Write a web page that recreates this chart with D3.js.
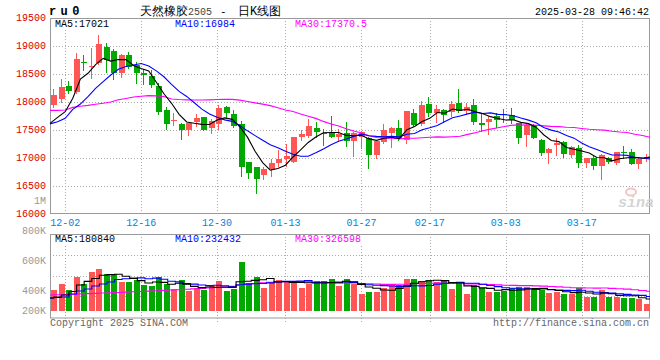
<!DOCTYPE html>
<html><head><meta charset="utf-8">
<script src="https://cdn.jsdelivr.net/npm/d3@7"></script>
<style>
html,body{margin:0;padding:0;background:#fff;}
svg{display:block;}
text{font-family:"Liberation Mono","DejaVu Sans Mono",monospace;}
</style></head><body>
<svg id="c" width="660" height="360"></svg>
<script>
const dates = ["2024-11-28","2024-11-29","2024-12-02","2024-12-03","2024-12-04","2024-12-05","2024-12-06","2024-12-09","2024-12-10","2024-12-11","2024-12-12","2024-12-13","2024-12-16","2024-12-17","2024-12-18","2024-12-19","2024-12-20","2024-12-23","2024-12-24","2024-12-25","2024-12-26","2024-12-27","2024-12-30","2024-12-31","2025-01-02","2025-01-03","2025-01-06","2025-01-07","2025-01-08","2025-01-09","2025-01-10","2025-01-13","2025-01-14","2025-01-15","2025-01-16","2025-01-17","2025-01-20","2025-01-21","2025-01-22","2025-01-23","2025-01-24","2025-01-27","2025-02-05","2025-02-06","2025-02-07","2025-02-10","2025-02-11","2025-02-12","2025-02-13","2025-02-14","2025-02-17","2025-02-18","2025-02-19","2025-02-20","2025-02-21","2025-02-24","2025-02-25","2025-02-26","2025-02-27","2025-02-28","2025-03-03","2025-03-04","2025-03-05","2025-03-06","2025-03-07","2025-03-10","2025-03-11","2025-03-12","2025-03-13","2025-03-14","2025-03-17","2025-03-18","2025-03-19","2025-03-20","2025-03-21","2025-03-24","2025-03-25","2025-03-26","2025-03-27","2025-03-28"];

const openP = [17943,18050,18283,18181,18712,18635,18688,18987,18915,18521,
 18837,18659,18521,18468,18283,17853,17662,17596,17489,17644,
 17722,17525,17596,17913,17781,17602,16916,16833,16689,16797,
 16910,16976,16922,17376,17388,17531,17441,17441,17364,17441,
 17304,17376,17358,17047,17280,17447,17531,17316,17793,17596,
 17960,17793,17853,17823,17984,17835,17943,17614,17644,17746,
 17781,17763,17614,17405,17584,17316,17077,17220,17286,17047,
 17179,16898,16999,16850,16988,16910,17095,17095,16886,16976];
const highP = [18229,18402,18372,18867,18837,18957,19196,19058,18945,18849,
 18885,18706,18587,18569,18330,17913,17793,17614,17626,17781,
 17734,17686,17936,17925,17853,17662,16922,16840,16833,16982,
 17137,17238,17376,17495,17686,17644,17507,17746,17507,17638,
 17459,17477,17376,17316,17602,17543,17674,17841,17865,18010,
 18092,17943,17871,18014,18229,17972,18050,17793,17746,17793,
 17871,17895,17626,17602,17602,17328,17178,17346,17290,17208,
 17226,16999,17035,17059,17006,17107,17208,17155,17017,17065];
const lowP = [17901,17990,18151,18163,18569,18420,18670,18539,18402,18450,
 18611,18342,18318,18271,17775,17507,17584,17328,17411,17572,
 17495,17447,17507,17734,17543,16677,16630,16361,16618,16677,
 16850,16850,16916,17316,17364,17376,17226,17364,17304,17208,
 17029,17178,16821,16999,17268,17196,17316,17268,17566,17584,
 17746,17644,17644,17746,17823,17781,17602,17483,17429,17555,
 17644,17626,17268,17208,17346,17047,16910,17047,17006,17006,
 16839,16839,16797,16618,16910,16880,16988,16886,16821,16940];
const closeP = [18121,18259,18193,18766,18688,18647,19034,18748,18521,18837,
 18629,18521,18473,18300,17823,17596,17674,17489,17614,17704,
 17495,17662,17895,17805,17566,16839,16731,16624,16791,16898,
 16976,17029,17364,17423,17566,17465,17417,17376,17429,17304,
 17441,17459,17047,17298,17495,17531,17340,17835,17584,17950,
 17805,17871,17763,17960,17835,17901,17644,17590,17698,17674,
 17757,17674,17358,17584,17358,17077,17161,17256,17065,17196,
 16910,16988,16850,17047,16916,17095,17077,16886,16976,17017];

const ma5 = [17614,17722,17823,18062,18405,18511,18666,18777,18728,18757,
 18754,18651,18596,18552,18349,18143,17973,17776,17639,17615,
 17595,17593,17674,17712,17685,17553,17367,17113,16910,16777,
 16804,16864,17012,17138,17272,17369,17447,17449,17451,17398,
 17393,17402,17336,17310,17348,17366,17342,17500,17557,17648,
 17703,17809,17795,17870,17847,17866,17821,17786,17734,17701,
 17673,17679,17632,17609,17546,17410,17308,17287,17183,17151,
 17118,17083,17002,16998,16942,16979,16997,17004,16990,17010];
const ma10 = [17605,17644,17704,17865,17960,18092,18241,18360,18479,18581,
 18632,18658,18686,18640,18553,18448,18312,18186,18096,17982,
 17869,17783,17725,17676,17650,17574,17480,17394,17311,17231,
 17179,17115,17062,17024,17024,17087,17155,17231,17294,17335,
 17381,17424,17393,17380,17373,17380,17372,17418,17433,17498,
 17534,17576,17647,17713,17747,17784,17815,17790,17802,17774,
 17769,17750,17709,17672,17624,17541,17493,17460,17396,17349,
 17264,17195,17145,17091,17047,17048,17040,17003,16994,16976];
const ma30 = [17847,17847,17853,17900,17920,17935,17955,17975,17995,18035,
 18060,18085,18100,18110,18106,18095,18050,18040,18035,18032,
 18032,18035,18040,18044,18044,18030,18005,17980,17958,17931,
 17893,17852,17825,17780,17742,17703,17649,17603,17567,17516,
 17476,17441,17393,17360,17349,17347,17336,17347,17346,17355,
 17365,17372,17367,17373,17382,17417,17447,17480,17510,17536,
 17562,17583,17583,17588,17581,17569,17560,17556,17544,17540,
 17523,17507,17500,17492,17473,17458,17449,17418,17397,17366];

// volume in thousands of lots
const volume = [366,471,366,593,471,680,732,645,645,506,
 506,541,453,436,593,471,384,541,349,401,
 366,436,523,349,384,854,488,593,401,506,
 541,523,523,401,471,523,523,558,436,558,
 471,296,331,331,401,453,453,558,558,523,
 541,506,523,384,488,296,453,401,331,331,
 349,401,418,418,366,366,314,331,296,296,
 401,244,244,371,244,244,232,232,209,122];
const vma5 = [227,244,279,340,453,516,568,624,635,642,
 607,569,530,488,506,499,467,485,468,429,
 408,419,415,415,412,509,520,534,544,568,
 506,513,499,499,492,488,488,495,502,520,
 509,464,418,397,366,362,394,439,485,509,
 527,537,530,495,488,439,429,404,394,362,
 373,363,366,383,390,394,376,359,335,321,
 328,314,296,311,301,269,267,265,232,208];
const vma10 = [227,235,244,296,349,384,436,471,506,548,
 562,569,577,562,574,553,518,508,478,468,
 454,443,450,441,420,459,469,474,480,490,
 508,516,516,521,530,497,501,497,501,506,
 499,476,457,450,443,436,429,429,441,438,
 445,466,485,490,499,483,483,467,445,425,
 406,396,385,389,376,383,370,363,359,356,
 361,345,328,323,311,299,290,280,272,254];
const vma30 = [279,283,288,293,298,303,308,313,318,323,
 329,335,341,347,353,359,365,371,378,385,
 393,401,410,420,430,445,460,475,490,502,
 508,509,514,508,508,503,496,493,486,488,
 487,478,474,471,464,464,466,467,474,478,
 484,486,486,487,491,472,471,464,462,456,
 450,446,442,443,439,434,427,420,415,406,
 404,402,399,401,395,388,381,370,358,345];

const priceTicks = [16000,16500,17000,17500,18000,18500,19000,19500];
const volTickValues = [200,400,600,800,1000];
const volTickLabels = ["200K","400K","600K","800K","1M"];
const xTickDates = ["2024-12-02","2024-12-16","2024-12-30","2025-01-13","2025-01-27","2025-02-17","2025-03-03","2025-03-17"];

const priceLegend = [{t:"MA5:17021",c:"#000"},{t:"MA10:16984",c:"#0000ff"},{t:"MA30:17370.5",c:"#ff00ff"}];
const volLegend = [{t:"MA5:180840",c:"#000"},{t:"MA10:232432",c:"#0000ff"},{t:"MA30:326598",c:"#ff00ff"}];

const RED = "#ff5555", GREEN = "#00a800", GRID = "#aaaaaa", BORDER = "#999999";

const svg = d3.select("#c");
svg.append("rect").attr("width",660).attr("height",360).attr("fill","#fff");

const x = d3.scaleBand().domain(dates).range([50,650]).paddingInner(0).paddingOuter(0);
const xp = d3.scalePoint().domain(dates).range([50,650]);
const yP = d3.scaleLinear().domain([16000,19500]).range([213.5,18]);
const yV = d3.scaleLinear().domain([0,1000]).range([311, 311 - 1000/17.438]);
const yVLabel = d3.scaleLinear().domain([200,400,1000]).range([310.3,290.3,200.3]);
const yVGrid = d3.scaleLinear().domain([0,4]).range([316,235]);

const crisp = v => Math.round(v) + 0.5;

// grid
const g = svg.append("g").attr("stroke",GRID).attr("stroke-dasharray","1,2").attr("stroke-width",1);
priceTicks.filter(t => t>16000 && t<19500).forEach(t => {
  g.append("line").attr("x1",50).attr("x2",650).attr("y1",crisp(yP(t))).attr("y2",crisp(yP(t)));
});
[1,2,3].forEach(k => {
  g.append("line").attr("x1",50).attr("x2",650).attr("y1",crisp(yVGrid(k))).attr("y2",crisp(yVGrid(k)));
});
xTickDates.forEach(d => {
  const xx = crisp(xp(d));
  g.append("line").attr("x1",xx).attr("x2",xx).attr("y1",18).attr("y2",214);
  g.append("line").attr("x1",xx).attr("x2",xx).attr("y1",234).attr("y2",322);
});

// legends with white background
function legend(items, xs, yBase) {
  items.forEach((it,i) => {
    const t = svg.append("text").attr("x",xs[i]).attr("y",yBase).attr("font-size",10)
      .attr("fill",it.c).text(it.t);
    const bb = t.node().getBBox();
    svg.insert("rect", () => t.node()).attr("x",bb.x-1).attr("y",bb.y).attr("width",bb.width+2)
      .attr("height",bb.height).attr("fill","#fff");
  });
}
legend(priceLegend,[55,175,295],27);
legend(volLegend,[55,175,295],242);

// borders
svg.append("rect").attr("x",50.5).attr("y",18.5).attr("width",599).attr("height",195)
  .attr("fill","none").attr("stroke",BORDER);
svg.append("rect").attr("x",50.5).attr("y",234.5).attr("width",599).attr("height",83.5)
  .attr("fill","none").attr("stroke",BORDER);

// watermark
const wm = svg.append("g");
wm.append("ellipse").attr("cx",631).attr("cy",192).attr("rx",5).attr("ry",3.5)
  .attr("fill","none").attr("stroke","#f3c4c4").attr("stroke-width",2);
wm.append("text").attr("x",618).attr("y",207).attr("font-size",15).attr("font-style","italic")
  .attr("font-weight","bold").attr("font-family","Liberation Sans, Arial, sans-serif")
  .attr("fill","#d4d4d4").text("sina");

// candles
const candles = svg.append("g").attr("shape-rendering","crispEdges");
dates.forEach((d,i) => {
  const o = openP[i], c = closeP[i], h = highP[i], l = lowP[i];
  const col = c >= o ? RED : GREEN;
  const X = Math.round(x(d));
  candles.append("line").attr("x1",X+3.5).attr("x2",X+3.5)
    .attr("y1",Math.round(yP(h))).attr("y2",Math.round(yP(l))+1).attr("stroke",col);
  const top = Math.round(yP(Math.max(o,c))), bot = Math.round(yP(Math.min(o,c)));
  candles.append("rect").attr("x",X+0.5).attr("y",top).attr("width",6)
    .attr("height",Math.max(1,bot-top)).attr("fill",col);
});

// volume bars
const vb = svg.append("g").attr("shape-rendering","crispEdges");
dates.forEach((d,i) => {
  const col = closeP[i] >= openP[i] ? RED : GREEN;
  const X = Math.round(x(d));
  const top = Math.round(yV(volume[i]));
  vb.append("rect").attr("x",X+0.5).attr("y",top).attr("width",6)
    .attr("height",Math.round(yV(0))-top).attr("fill",col);
});

// MA lines
function maLine(arr, yScale, color, curve) {
  const line = d3.line().x((v,i)=>xp(dates[i])).y(v=>yScale(v)).curve(curve);
  svg.append("path").attr("d",line(arr)).attr("fill","none").attr("stroke",color).attr("stroke-width",1.1);
}
maLine(ma30, yP, "#ff00ff", d3.curveLinear);
maLine(ma10, yP, "#0000ff", d3.curveLinear);
maLine(ma5, yP, "#000000", d3.curveLinear);
maLine(vma30, yV, "#ff00ff", d3.curveStep);
maLine(vma10, yV, "#0000ff", d3.curveStep);
maLine(vma5, yV, "#000000", d3.curveStep);

// price axis labels
priceTicks.forEach(t => {
  svg.append("text").attr("x",46).attr("y",yP(t)).attr("dy","0.33em").attr("text-anchor","end")
    .attr("font-size",10).attr("fill","#dd0000").text(t);
});
// volume axis labels
volTickValues.forEach((v,i) => {
  svg.append("text").attr("x",46).attr("y",yVLabel(v)).attr("dy","0.33em").attr("text-anchor","end")
    .attr("font-size",10).attr("fill","#999").text(volTickLabels[i]);
});
// x labels
xTickDates.forEach(d => {
  svg.append("text").attr("x",xp(d)).attr("y",226).attr("text-anchor","middle")
    .attr("font-size",10).attr("fill","#0a80d8").text(d.slice(5));
});

// title
svg.append("text").attr("x",49).attr("y",15).attr("font-size",12).attr("font-weight","bold")
  .attr("letter-spacing","4.4px").attr("font-family","DejaVu Sans Mono, monospace").attr("fill","#000").text("ru0");
const cjk = "'Noto Sans CJK SC', sans-serif";
svg.append("text").attr("x",140).attr("y",15).attr("font-size",12).attr("font-family",cjk).text("天然橡胶");
svg.append("text").attr("x",188).attr("y",15).attr("font-size",10).attr("fill","#444").text("2505");
svg.append("text").attr("x",220).attr("y",15).attr("font-size",11).attr("font-family",cjk).text("-");
svg.append("text").attr("x",238).attr("y",15).attr("font-size",12).attr("font-family",cjk).text("日K线图");
svg.append("text").attr("x",649).attr("y",15).attr("text-anchor","end").attr("font-size",10)
  .attr("fill","#000").text("2025-03-28 09:46:42");

// footer
svg.append("text").attr("x",50).attr("y",326).attr("font-size",10).attr("fill","#666").text("Copyright 2025 SINA.COM");
svg.append("text").attr("x",649).attr("y",326).attr("text-anchor","end").attr("font-size",10).attr("fill","#666").text("http://finance.sina.com.cn");
</script>
</body></html>
